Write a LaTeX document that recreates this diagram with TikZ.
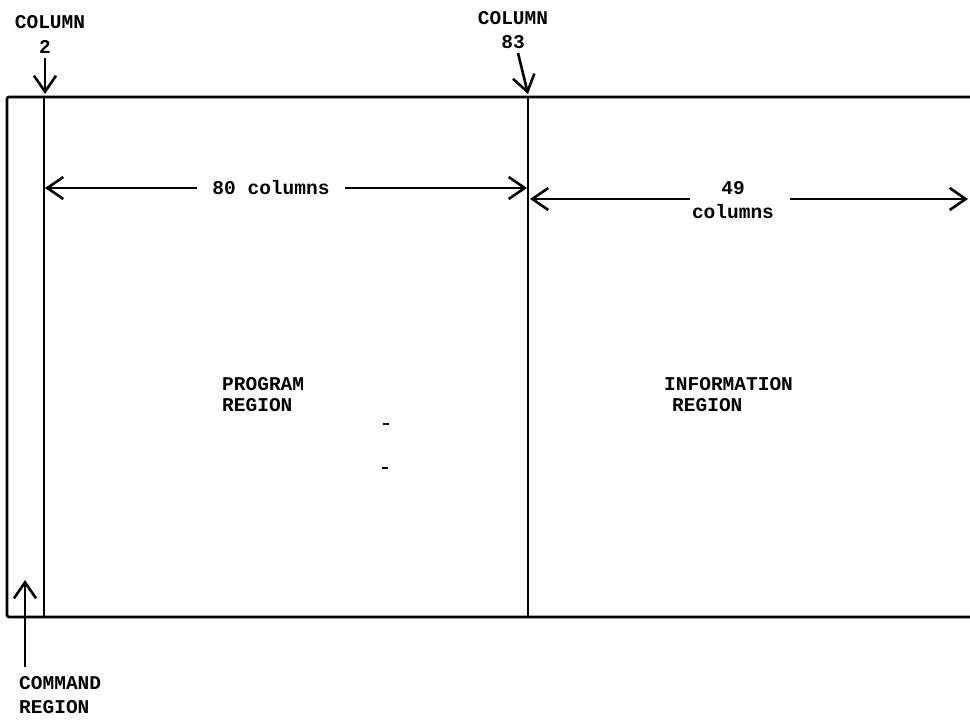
\documentclass[tikz,border=0pt]{standalone}
\usepackage{fontspec}
\setmonofont{Liberation Mono}
\usetikzlibrary{arrows.meta}
\begin{document}
\begin{tikzpicture}[x=1pt,y=-1pt,
  txt/.style={font=\ttfamily\bfseries\fontsize{19.5}{24}\selectfont, inner sep=0pt, align=center},
  ln/.style={line width=2.6pt},
  arr/.style={line width=2.6pt, -{Straight Barb[length=16pt,width=22pt,line width=2.6pt]}}]
\useasboundingbox (0,0) rectangle (970,722);
% frame
\draw[ln, rounded corners=2pt] (970,97) -- (7,97) -- (7,617) -- (970,617);
\draw[line width=2.1pt] (44,97) -- (44,617);
\draw[line width=2.1pt] (528,97) -- (528,617);
\coordinate (c2) at (45,94);
\coordinate (c83) at (528,94);
\coordinate (cmd) at (25,580);
\coordinate (l80) at (45,188);
\coordinate (r80) at (527,188);
\coordinate (l49) at (530,199);
\coordinate (r49) at (968,199);
\coordinate (s80a) at (197,188);
\coordinate (s80b) at (345,188);
\coordinate (s49a) at (690,199);
\coordinate (s49b) at (790,199);
% labels
\node[txt] (col2) at (50,22) {COLUMN};
\node[txt] (n2) at (45,47) {2};
\node[txt] (col83) at (513,18) {COLUMN};
\node[txt] (n83) at (513,42) {83};
\node[txt, anchor=west] (cmdA) at (19,683) {COMMAND};
\node[txt, anchor=west] (cmdB) at (19,707) {REGION};
\node[txt] (t80) at (271,188) {80 columns};
\node[txt] (t49a) at (733,188) {49};
\node[txt] (t49b) at (733,212) {columns};
\node[txt, anchor=west] (prA) at (222,384) {PROGRAM};
\node[txt, anchor=west] (prB) at (222,405) {REGION};
\node[txt, anchor=west] (inA) at (664,384) {INFORMATION};
\node[txt, anchor=west] (inB) at (672,405) {REGION};
% arrows
\draw[arr] (45,58) -- (c2);
\draw[arr] (518,53) -- (c83);
\draw[arr] (25,667) -- (cmd);
\draw[arr] (s80a) -- (l80);
\draw[arr] (s80b) -- (r80);
\draw[arr] (s49a) -- (l49);
\draw[arr] (s49b) -- (r49);
% dashes
\draw[line width=2.8pt] (383,424) -- (389,424);
\draw[line width=2.8pt] (382,468) -- (388,468);
\end{tikzpicture}
\end{document}
